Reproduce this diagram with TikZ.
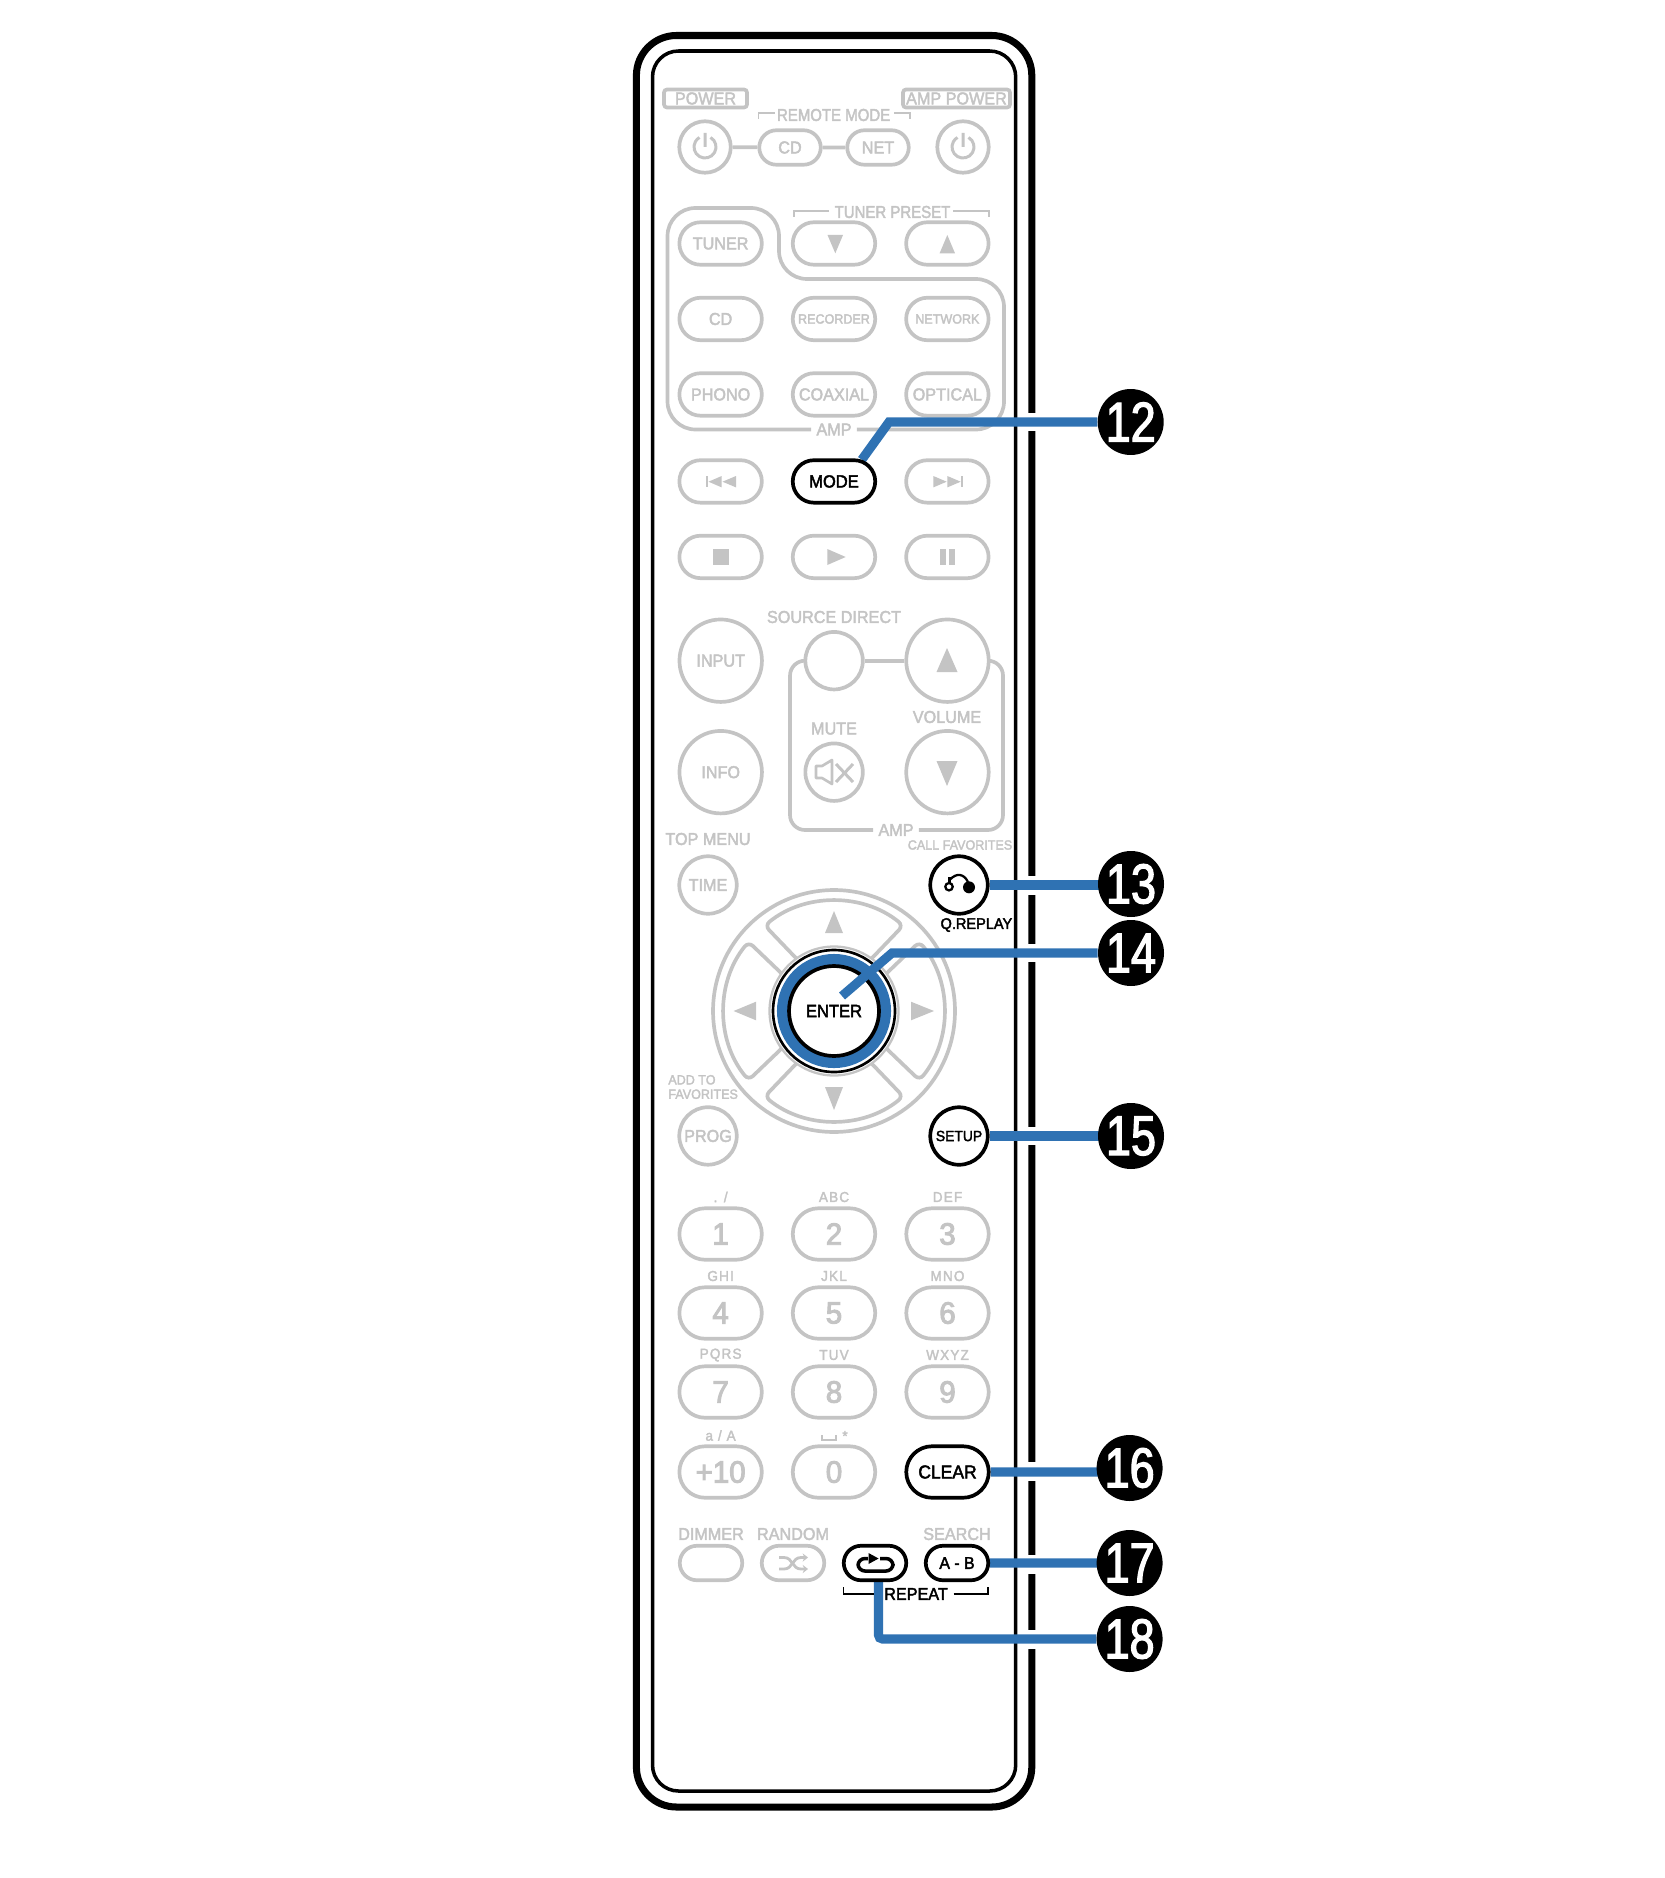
\documentclass[tikz,border=0pt]{standalone}
\usepackage{fontspec}
\setmainfont{Liberation Sans}
\newfontfamily\keyfam[FakeStretch=0.94, FakeBold=2.4]{Liberation Sans}
\newfontfamily\narrowfam[FakeStretch=0.87, FakeBold=2.4]{Liberation Sans}
\newfontfamily\digitfam[FakeStretch=0.96, FakeBold=3.2]{Liberation Sans}
\newfontfamily\bubblefont[FakeStretch=0.8, FakeBold=2.2]{Liberation Sans}
\usetikzlibrary{arrows.meta, positioning, shapes.misc}
\pgfdeclarelayer{keys}
\pgfsetlayers{main,keys}
\definecolor{keygray}{HTML}{C4C4C4}
\definecolor{calloutblue}{HTML}{2F72B3}
\newcommand{\keyfont}{\keyfam\fontsize{9.8}{11}\selectfont}
\newcommand{\tinyfont}{\keyfam\fontsize{7.6}{8.2}\selectfont}
\newcommand{\subfont}{\keyfam\fontsize{8.2}{10}\selectfont\addfontfeature{LetterSpace=8}}
\newcommand{\digitfont}{\digitfam\fontsize{17.5}{19}\selectfont}
\tikzset{
    keyline/.style={draw=keygray, line width=2.1pt},
    blackline/.style={draw=black, line width=2.1pt},
    keyname/.style={text=keygray, font=\keyfont, inner sep=0pt},
    keybtn/.style={keyline, fill=white, rounded rectangle, minimum width=1.65cm, minimum height=0.85cm, inner sep=0pt, text=keygray, font=\keyfont},
    numbtn/.style={keybtn, minimum height=1.03cm, font=\digitfont},
    smallbtn/.style={keybtn, minimum width=1.25cm, minimum height=0.69cm},
    keycirc/.style={keyline, fill=white, circle, inner sep=0pt, text=keygray, font=\keyfont},
    bigcirc/.style={keycirc, minimum size=1.65cm},
    midcirc/.style={keycirc, minimum size=1.15cm},
    callout/.style={draw=calloutblue, line width=5.2pt},
    bubble/.style={circle, fill=black, text=white, minimum size=1.32cm, inner sep=0pt, font=\bubblefont\fontsize{32}{34}\selectfont}
}
\begin{document}
\begin{tikzpicture}[x=0.02cm, y=-0.02cm, >={Stealth[length=3pt, width=4.6pt]}, on grid, node distance=1.51cm and 2.268cm]
    \useasboundingbox (0,0) rectangle (1665,1878);

    % remote body
    \draw[line width=4pt, rounded corners=0.8cm] (636.4,35.5) rectangle (1031.8,1807);
    \draw[line width=2pt, rounded corners=0.52cm] (652.5,51) rectangle (1015.7,1791);

    % top row
    \node[keyline, rounded corners=0.06cm, minimum width=1.66cm, minimum height=0.36cm, inner sep=0pt, text=keygray, font=\keyfont] (power) at (705.5,98.5) {POWER};
    \node[keyline, rounded corners=0.06cm, minimum width=2.14cm, minimum height=0.36cm, inner sep=0pt, text=keygray, font=\keyfont] (amppower) at (956.5,98.5) {AMP POWER};
    \node[keyname, font=\narrowfam\fontsize{9.8}{11}\selectfont] (remote) at (833.6,115) {REMOTE MODE};
    \node[keycirc, minimum size=1.03cm] (pwrl) at (705,147) {};
    \node[keycirc, minimum size=1.03cm] (pwrr) at (963,147) {};
    \node[smallbtn, minimum width=1.23cm] (cdmode) at (790,147.5) {CD};
    \node[smallbtn, minimum width=1.23cm] (netmode) at (878,147.5) {NET};
    \draw[keyline] (pwrl) -- (cdmode);
    \draw[keyline] (cdmode) -- (netmode);
    \draw[keygray, line width=0.9pt] (774.6,113) -- (758.6,113) -- (758.6,119);
    \draw[keygray, line width=0.9pt] (894,113) -- (910,113) -- (910,119);
    \foreach \n in {pwrl,pwrr}
        \draw[keygray, line width=1.7pt, shift={(\n)}, y=0.02cm] (60:11) arc[start angle=60, end angle=-240, radius=11] (0,14) -- (0,0);

    % input selector keys
    \node[keyname, font=\narrowfam\fontsize{9.8}{11}\selectfont] (preset) at (892.5,212) {TUNER PRESET};
    \draw[keygray, line width=1.4pt] (829,211) -- (794,211) -- (794,217);
    \draw[keygray, line width=1.4pt] (953,211) -- (989,211) -- (989,217);
    \node[keybtn] (tuner) at (720.6,243.5) {TUNER};
    \node[keybtn, right=of tuner] (presetdn) {};
    \node[keybtn, right=of presetdn] (presetup) {};
    \node[keybtn, below=of tuner] (cdin) {CD};
    \node[keybtn, right=of cdin, font=\tinyfont] (recorder) {RECORDER};
    \node[keybtn, right=of recorder, font=\tinyfont] (network) {NETWORK};
    \node[keybtn, below=of cdin] (phono) {PHONO};
    \node[keybtn, right=of phono] (coaxial) {COAXIAL};
    \node[keybtn, right=of coaxial] (optical) {OPTICAL};
    \fill[keygray] (827.5,235) -- (843,235) -- (835.3,253.3) -- cycle;
    \fill[keygray] (939.6,253.3) -- (955,253.3) -- (947.3,235) -- cycle;
    \node[keyname, inner xsep=0.1cm] (ampa) at (834,429.5) {AMP};
    \draw[keyline, rounded corners=0.56cm] (ampa.west) -- (667.5,429.5) -- (667.5,208) -- (779,208) -- (779,279) -- (1004,279) -- (1004,429.5) -- (ampa.east);

    % transport keys
    \node[keybtn, below=1.74cm of phono] (prev) {};
    \node[keybtn, right=4.536cm of prev] (next) {};
    \node[keybtn, below=of prev] (stop) {};
    \node[keybtn, right=of stop] (play) {};
    \node[keybtn, right=of play] (pause) {};
    \fill[keygray] (706,476) rectangle (708,487.4);
    \fill[keygray] (708.5,481.7) -- (721.7,476) -- (721.7,487.4) -- cycle;
    \fill[keygray] (722.5,481.7) -- (736,476) -- (736,487.4) -- cycle;
    \fill[keygray] (933.3,476) -- (946.7,481.7) -- (933.3,487.4) -- cycle;
    \fill[keygray] (947.3,476) -- (960.7,481.7) -- (947.3,487.4) -- cycle;
    \fill[keygray] (960.7,476) rectangle (962.7,487.4);
    \fill[keygray] (713.3,549.3) rectangle (729,565);
    \fill[keygray] (827.3,549) -- (845.7,557) -- (827.3,565) -- cycle;
    \fill[keygray] (940,549.3) rectangle (946,565);
    \fill[keygray] (949.3,549.3) rectangle (955.3,565);

    % volume block
    \node[keyname] (source) at (834,617) {SOURCE DIRECT};
    \node[bigcirc] (input) at (720.7,660.7) {INPUT};
    \node[bigcirc, below=2.23cm of input] (info) {INFO};
    \node[midcirc, right=of input] (srcdirect) {};
    \node[bigcirc, right=of srcdirect] (volup) {};
    \node[midcirc, below=2.23cm of srcdirect] (mute) {};
    \node[bigcirc, right=of mute] (voldn) {};
    \node[keyname] (mutename) at (834,728.6) {MUTE};
    \node[keyname] (volname) at (947,717) {VOLUME};
    \node[keyname, inner xsep=0.1cm] (ampb) at (896,830) {AMP};
    \draw[keyline] (srcdirect) -- (volup);
    \draw[keyline, rounded corners=0.3cm] (srcdirect.west) -- (790,660.7) -- (790,830) -- (ampb.west);
    \draw[keyline, rounded corners=0.3cm] (ampb.east) -- (1003,830) -- (1003,660.7) -- (volup.east);
    \fill[keygray] (936.5,672) -- (957.5,672) -- (947,648) -- cycle;
    \fill[keygray] (936.5,761) -- (957.5,761) -- (947,786) -- cycle;
    \draw[keygray, line width=1.5pt, line join=round] (816,766) -- (822,766) -- (832,760) -- (832,784) -- (822,778) -- (816,778) -- cycle;
    \draw[keygray, line width=1.7pt] (836,764) -- (853,782);
    \draw[keygray, line width=1.7pt] (853,764) -- (836,782);

    % menu keys
    \node[keyname] (topmenu) at (708,839) {TOP MENU};
    \node[midcirc] (timekey) at (708,885) {TIME};
    \node[midcirc, below=5.02cm of timekey] (prog) {PROG};
    \node[keyname, font=\tinyfont, align=left, anchor=west] (addfav) at (668,1087) {ADD TO\\FAVORITES};
    \node[keyname, font=\tinyfont] (callfav) at (960,845) {CALL FAVORITES};

    % cursor keys
    \node[keyline, circle, minimum size=4.84cm, inner sep=0pt] (nav) at (834,1011) {};
    \begin{scope}[shift={(nav)}, y=0.02cm, rounded corners=0.12cm]
        \foreach \a in {0,90,180,270}
            \draw[keyline, rotate=\a] (129:110) arc[start angle=129, end angle=51, radius=110] -- (55:60) arc[start angle=55, end angle=125, radius=60] -- cycle;
    \end{scope}
    \fill[keygray] (834,911) -- (843,933) -- (825,933) -- cycle;
    \fill[keygray] (834,1110) -- (843,1087) -- (825,1087) -- cycle;
    \fill[keygray] (733.6,1011) -- (756,1001.7) -- (756,1020.3) -- cycle;
    \fill[keygray] (934,1011) -- (911,1001.7) -- (911,1020.3) -- cycle;

    % number keys
    \foreach \n/\x/\y/\d/\s in {one/720.6/1234/1/{. /}, two/834/1234/2/ABC, three/947.5/1234/3/DEF,
                                four/720.6/1313/4/GHI, five/834/1313/5/JKL, six/947.5/1313/6/MNO,
                                seven/720.6/1392/7/PQRS, eight/834/1392/8/TUV, nine/947.5/1392/9/WXYZ} {
        \node[numbtn] (\n) at (\x,\y) {\d};
        \node[keyname, font=\subfont] (sub\n) at (\x,\y-37) {\s};
    }
    \node[numbtn] (plusten) at (720.6,1472) {+10};
    \node[keyname, font=\subfont] (subplusten) at (720.6,1435.5) {a / A};
    \node[numbtn] (zero) at (834,1472) {0};
    \node[keyname, font=\subfont] (subzero) at (845,1436) {*};
    \draw[keygray, line width=0.9pt] (822,1435) -- (822,1440) -- (836,1440) -- (836,1435);

    % bottom row
    \node[keyname] (dimname) at (711,1534) {DIMMER};
    \node[keyname] (randname) at (793,1534) {RANDOM};
    \node[keyname] (searchname) at (957,1534) {SEARCH};
    \node[smallbtn] (dimmer) at (711,1563) {};
    \node[smallbtn] (random) at (793,1563) {};
    \draw[->, keygray, line width=1.6pt] (779,1557.5) -- (784,1557.5) .. controls (793,1557.5) and (792,1569) .. (801,1569) -- (808,1569);
    \draw[->, keygray, line width=1.6pt] (779,1569) -- (784,1569) .. controls (793,1569) and (792,1557.5) .. (801,1557.5) -- (808,1557.5);

    % marked keys
    \begin{pgfonlayer}{keys}
        \node[keybtn, blackline, text=black, font=\keyfam\fontsize{10}{11}\selectfont, right=of prev] (mode) {MODE};
        \node[midcirc, blackline] (qreplay) at (959,885) {};
        \node[midcirc, blackline, text=black, font=\keyfam\fontsize{8.4}{9}\selectfont] (setup) at (959,1136) {SETUP};
        \node[numbtn, blackline, text=black, font=\keyfam\fontsize{10.6}{12}\selectfont] (clear) at (947.5,1472) {CLEAR};
        \node[smallbtn, blackline] (rpt) at (875,1563) {};
        \node[smallbtn, blackline, text=black, font=\keyfam\fontsize{9.6}{11}\selectfont] (ab) at (957,1563) {A - B};
        \draw[line width=2pt, rounded corners=0.14cm] (868,1558.5) -- (858,1558.5) -- (858,1571) -- (893,1571) -- (893,1558.5) -- (880,1558.5);
        \fill (868.5,1553) -- (878.6,1558.5) -- (868.5,1564) -- cycle;
        \draw[line width=1.3pt] (949,886.7) circle[radius=3.7];
        \fill (969,887.3) circle[radius=6];
        \draw[line width=1.3pt] (949.5,883) -- (949.5,877);
        \draw[line width=1.3pt] (949.5,880) .. controls (957,872) and (964,874) .. (968,882);
        \node[inner sep=0pt, font=\keyfam\fontsize{8.8}{10}\selectfont] (qrepname) at (976.4,925) {Q.REPLAY};
        \node[inner sep=0pt, font=\keyfont] (repeatname) at (916,1594) {REPEAT};
        \draw[line width=0.9pt] (843.6,1587) -- (843.6,1594) -- (874,1594);
        \draw[line width=0.9pt] (953.6,1594) -- (988,1594) -- (988,1587);

        % enter key
        \draw[keyline, line width=1.3pt, fill=white] (nav) circle[radius=64.5];
        \draw[line width=1.5pt, fill=white] (nav) circle[radius=61];
        \draw[calloutblue, line width=6.3pt] (nav) circle[radius=51.5];
        \node[circle, blackline, fill=white, minimum size=1.8cm, inner sep=0pt, font=\keyfam\fontsize{10}{11}\selectfont] (enter) at (nav) {ENTER};
    \end{pgfonlayer}

    % callouts
    \foreach \y in {422,885.5,953,1136,1471,1564,1639}
        \draw[white, line width=10.8pt] (1026,\y) -- (1038,\y);
    \begin{pgfonlayer}{keys}
        \node[bubble] (bubtwelve) at (1130.7,422) {12};
        \node[bubble] (bubthirteen) at (1131,884) {13};
        \node[bubble] (bubfourteen) at (1131,953) {14};
        \node[bubble] (bubfifteen) at (1131,1136) {15};
        \node[bubble] (bubsixteen) at (1129.6,1468) {16};
        \node[bubble] (bubseventeen) at (1129.6,1563) {17};
        \node[bubble] (bubeighteen) at (1129.6,1639) {18};
        \draw[callout] (bubfourteen.west) -- (892,953) -- (842,996);
    \end{pgfonlayer}
    \draw[callout] (bubtwelve) -- (889,422) -- (mode.38);
    \draw[callout] (bubthirteen |- qreplay) -- (qreplay);
    \draw[callout] (bubfifteen |- setup) -- (setup);
    \draw[callout] (bubsixteen |- clear) -- (clear);
    \draw[callout] (bubseventeen |- ab) -- (ab);
    \draw[callout, rounded corners=0.08cm] (bubeighteen) -| ([xshift=0.07cm]rpt.south);
\end{tikzpicture}
\end{document}
